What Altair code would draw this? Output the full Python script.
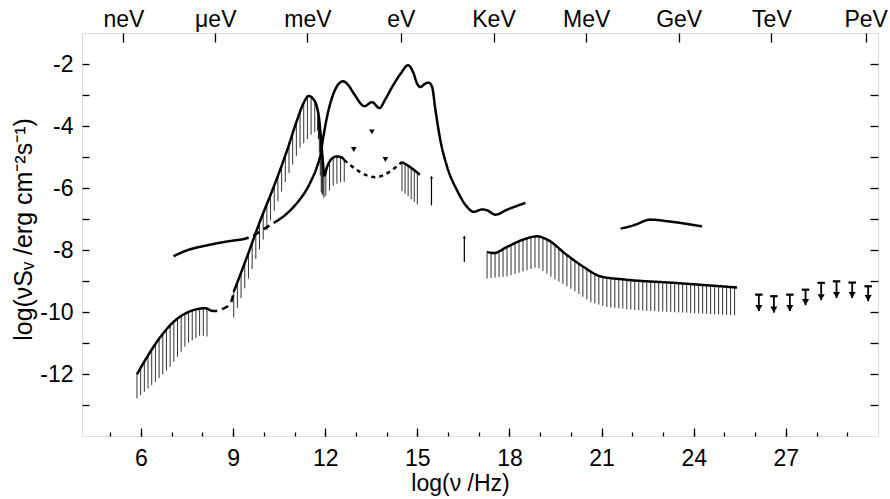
import altair as alt
import numpy as np
import pandas as pd

FONT = "Liberation Sans"

# ---------------- data ----------------
# radio background (solid) and its dashed continuation
radio_x = [5.87, 6.2, 6.63, 7.06, 7.5, 7.93, 8.1, 8.26]
radio_y = [-12.01, -11.45, -10.81, -10.32, -10.02, -9.89, -9.88, -9.95]
radio_dash_x = [8.26, 8.42, 8.7, 8.91, 9.02]
radio_dash_y = [-9.95, -9.97, -9.88, -9.73, -9.38]

# CMB + far-IR lower hump
cmb_x = [9.02, 9.45, 9.89, 10.32, 10.76, 11.08, 11.3, 11.46, 11.6, 11.73, 11.8, 11.86,
         11.92, 11.97, 12.06, 12.22, 12.38, 12.55, 12.62]
cmb_y = [-9.35, -8.23, -7.04, -5.97, -4.78, -3.82, -3.25, -3.03, -3.12, -3.39, -3.75, -4.4,
         -5.1, -5.6, -5.32, -5.05, -4.98, -5.02, -5.1]
cib_dash_x = [12.62, 13.63, 14.5]
cib_dash_y = [-5.1, -5.65, -5.16]
cib_solid_x = [14.5, 14.8, 15.08]
cib_solid_y = [-5.16, -5.35, -5.57]

# upper envelope curve
ir1_x = [7.06, 7.5, 8.15, 8.91, 9.29]
ir1_y = [-8.2, -8.01, -7.85, -7.71, -7.66]
ir_dash_x = [9.29, 9.67, 10.1, 10.37]
ir_dash_y = [-7.66, -7.53, -7.26, -7.1]
ir2_x = [10.37, 10.97, 11.51, 11.73, 11.84, 11.93, 12.06, 12.27, 12.44, 12.58, 12.75, 12.93,
         13.28, 13.52, 13.77, 13.95, 14.18, 14.45, 14.7, 14.88, 14.99, 15.1, 15.26, 15.37,
         15.48, 15.59, 15.75, 15.97, 16.29, 16.62, 16.83, 17.11, 17.27, 17.54, 17.92, 18.52]
ir2_y = [-7.1, -6.61, -5.83, -5.32, -4.95, -4.4, -3.7, -2.95, -2.64, -2.56, -2.68, -2.95,
         -3.36, -3.23, -3.42, -3.15, -2.74, -2.32, -2.04, -2.31, -2.63, -2.74, -2.63, -2.6,
         -2.74, -3.49, -4.46, -5.32, -6.07, -6.61, -6.77, -6.69, -6.72, -6.86, -6.70, -6.48]

# gamma-ray curves
gamma_x = [17.27, 17.49, 17.92, 18.46, 18.9, 19.22, 19.88, 20.42, 20.96, 21.72, 23.35, 25.41]
gamma_y = [-8.06, -8.10, -7.90, -7.66, -7.56, -7.66, -8.17, -8.55, -8.85, -8.95, -9.06, -9.21]
gev_x = [21.62, 22.05, 22.59, 23.13, 24.27]
gev_y = [-7.31, -7.2, -7.02, -7.07, -7.24]

# lower edges of the hatched bands
radio_bot_x = [5.87, 6.41, 6.95, 7.5, 7.93, 8.26]
radio_bot_y = [-12.79, -12.31, -11.77, -11.02, -10.75, -10.81]
cmb_bot_x = [9.02, 9.89, 10.76, 11.19, 11.57, 11.75, 11.8, 11.86, 11.97, 12.06, 12.27, 12.49, 12.62]
cmb_bot_y = [-10.18, -7.9, -5.65, -4.68, -4.25, -4.15, -4.6, -6.1, -6.34, -6.18, -5.91, -5.81, -5.8]
cib_bot_x = [14.5, 15.08]
cib_bot_y = [-6.1, -6.6]
gamma_bot_x = [17.27, 17.92, 18.9, 19.44, 20.09, 20.64, 21.18, 22.26, 23.89, 25.41]
gamma_bot_y = [-8.92, -8.85, -8.55, -8.92, -9.3, -9.68, -9.84, -9.95, -10.03, -10.11]

# upper-limit triangles
tri_x = [12.93, 13.52, 13.96]
tri_y = [-4.76, -4.19, -5.08]

# lower-limit bars (top, bottom)
ll_x = [15.46, 16.53]
ll_top = [-5.65, -7.58]
ll_bot = [-6.56, -8.39]

# TeV-PeV upper-limit arrows (top cap, arrow tip)
ul_x = [26.12, 26.61, 27.13, 27.64, 28.15, 28.65, 29.16, 29.68]
ul_top = [-9.44, -9.49, -9.44, -9.28, -9.06, -9.01, -9.05, -9.17]
ul_tip = [-9.97, -10.02, -9.97, -9.78, -9.62, -9.55, -9.55, -9.65]

# axis labels
x_major = [6, 9, 12, 15, 18, 21, 24, 27]
x_minor = list(range(5, 30))
y_ticks = list(range(-13, -1))
energy_pos = [5.43, 8.42, 11.42, 14.46, 17.48, 20.50, 23.51, 26.53, 29.6]
energy_lab = ["neV", "μeV", "meV", "eV", "KeV", "MeV", "GeV", "TeV", "PeV"]

# ---------------- tables ----------------
segs = [
    ("radio", "solid", radio_x, radio_y),
    ("radio_d", "dash", radio_dash_x, radio_dash_y),
    ("cmb", "solid", cmb_x, cmb_y),
    ("cib_d", "dot", cib_dash_x, cib_dash_y),
    ("cib", "solid", cib_solid_x, cib_solid_y),
    ("ir1", "solid", ir1_x, ir1_y),
    ("ir_d", "dash", ir_dash_x, ir_dash_y),
    ("ir2", "solid", ir2_x, ir2_y),
    ("gamma", "solid", gamma_x, gamma_y),
    ("gev", "solid", gev_x, gev_y),
]
rows = []
for name, style, xs_, ys_ in segs:
    for i, (a, b) in enumerate(zip(xs_, ys_)):
        rows.append({"x": a, "y": b, "seg": name, "style": style, "o": i})
lines_df = pd.DataFrame(rows)


def hatch(cx, cy, bx, by, step):
    hx = np.arange(bx[0], bx[-1] + 1e-9, step)
    return pd.DataFrame({"x": hx, "y": np.interp(hx, cx, cy), "y2": np.interp(hx, bx, by)})


hatch_df = pd.concat([
    hatch(radio_x, radio_y, radio_bot_x, radio_bot_y, 0.12),
    hatch(cmb_x, cmb_y, cmb_bot_x, cmb_bot_y, 0.12),
    hatch(cmb_x, cmb_y, cmb_bot_x[5:9], cmb_bot_y[5:9], 0.03),
    hatch(cib_solid_x, cib_solid_y, cib_bot_x, cib_bot_y, 0.1),
    hatch(gamma_x, gamma_y, gamma_bot_x, gamma_bot_y, 0.13),
], ignore_index=True)

tri_df = pd.DataFrame({"x": tri_x, "y": tri_y})
ll_df = pd.DataFrame({"x": ll_x, "y": ll_top, "y2": ll_bot})
ul_df = pd.DataFrame({"x": ul_x, "y": ul_top, "y2": ul_tip})

# ---------------- scales & axes ----------------
xs = alt.Scale(domain=[4.08, 30.0], nice=False, zero=False)
ys = alt.Scale(domain=[-14, -1], nice=False, zero=False)

common = dict(domain=False, grid=False, tickColor="black", tickWidth=1.3,
              labelColor="black", labelFont=FONT, labelFontSize=23,
              titleFont=FONT, titleFontSize=23, titleFontWeight="normal",
              titleColor="black", labelOverlap=False)

ax_bottom = alt.Axis(orient="bottom", values=x_major, tickSize=8, offset=-8,
                     labelPadding=11, title="log(ν /Hz)", titleX=378, titleY=62,
                     titleBaseline="alphabetic", titleAlign="center", **common)
left_common = dict(common)
left_common["titleFontSize"] = 25
ax_left = alt.Axis(orient="left", values=y_ticks, tickSize=7, offset=-7, labelPadding=9,
                   labelExpr="datum.value % 2 == 0 ? toString(datum.value) : ''",
                   title="log(νSᵥ /erg  cm⁻²s⁻¹)", titleX=-66, titleY=196,
                   titleBaseline="middle", titleAlign="center", titleAngle=270,
                   **left_common)
ax_bottom_minor = alt.Axis(orient="bottom", values=x_minor, tickSize=4, offset=-4,
                           labels=False, title=None, **common)
ax_right = alt.Axis(orient="right", values=y_ticks, tickSize=8, offset=-8,
                    labels=False, title=None, **common)
lab_expr = " : ".join(
    f"datum.value < {p + 1.5} ? '{l}'" for p, l in zip(energy_pos[:-1], energy_lab[:-1])
) + f" : '{energy_lab[-1]}'"
ax_top = alt.Axis(orient="top", values=energy_pos, tickSize=9, offset=-9, labelPadding=2,
                  labelExpr=lab_expr, title=None, **common)

# ---------------- layers ----------------
hatch_layer = alt.Chart(hatch_df).mark_rule(color="#1a1a1a", strokeWidth=0.9).encode(
    x=alt.X("x:Q", scale=xs, axis=ax_bottom),
    y=alt.Y("y:Q", scale=ys, axis=ax_left),
    y2="y2:Q",
)

line_layer = alt.Chart(lines_df).mark_line(color="black", strokeWidth=2.5,
                                           interpolate="monotone").encode(
    x=alt.X("x:Q", scale=xs, axis=ax_bottom_minor),
    y=alt.Y("y:Q", scale=ys, axis=ax_right),
    detail="seg:N",
    order="o:Q",
    strokeDash=alt.StrokeDash("style:N", legend=None,
                              scale=alt.Scale(domain=["solid", "dash", "dot"],
                                              range=[[1, 0], [7, 5], [4, 4]])),
)

tri_layer = alt.Chart(tri_df).mark_point(shape="triangle-down", filled=True, color="black",
                                         size=32, opacity=1).encode(
    x=alt.X("x:Q", scale=xs, axis=ax_top),
    y=alt.Y("y:Q", scale=ys, axis=None),
)

ll_rule = alt.Chart(ll_df).mark_rule(color="black", strokeWidth=1.2).encode(
    x=alt.X("x:Q", scale=xs, axis=None), y=alt.Y("y:Q", scale=ys, axis=None), y2="y2:Q")
ll_head = alt.Chart(ll_df).mark_point(shape="triangle-up", filled=True, color="black",
                                      size=10, opacity=1).encode(
    x=alt.X("x:Q", scale=xs, axis=None), y=alt.Y("y:Q", scale=ys, axis=None))

ul_rule = alt.Chart(ul_df).mark_rule(color="black", strokeWidth=1.8).encode(
    x=alt.X("x:Q", scale=xs, axis=None), y=alt.Y("y:Q", scale=ys, axis=None), y2="y2:Q")
ul_cap = alt.Chart(ul_df).mark_point(shape="M-1,0L1,0", filled=False, color="black",
                                     strokeWidth=2.2, size=56, opacity=1).encode(
    x=alt.X("x:Q", scale=xs, axis=None), y=alt.Y("y:Q", scale=ys, axis=None))
ul_head = alt.Chart(ul_df).mark_point(shape="triangle-down", filled=True, color="black",
                                      size=50, opacity=1, yOffset=-3).encode(
    x=alt.X("x:Q", scale=xs, axis=None), y=alt.Y("y2:Q", scale=ys, axis=None))

chart = alt.layer(
    hatch_layer, line_layer, tri_layer, ll_rule, ll_head, ul_rule, ul_cap, ul_head
).resolve_axis(x="independent", y="independent").properties(
    width=796, height=403,
    autosize=alt.AutoSizeParams(type="none"),
    padding={"left": 82, "top": 33, "right": 12, "bottom": 63},
).configure_view(stroke="black", strokeWidth=1.6).configure(background="white")

chart.save("out.html", embed_options={"renderer": "svg", "actions": False})
